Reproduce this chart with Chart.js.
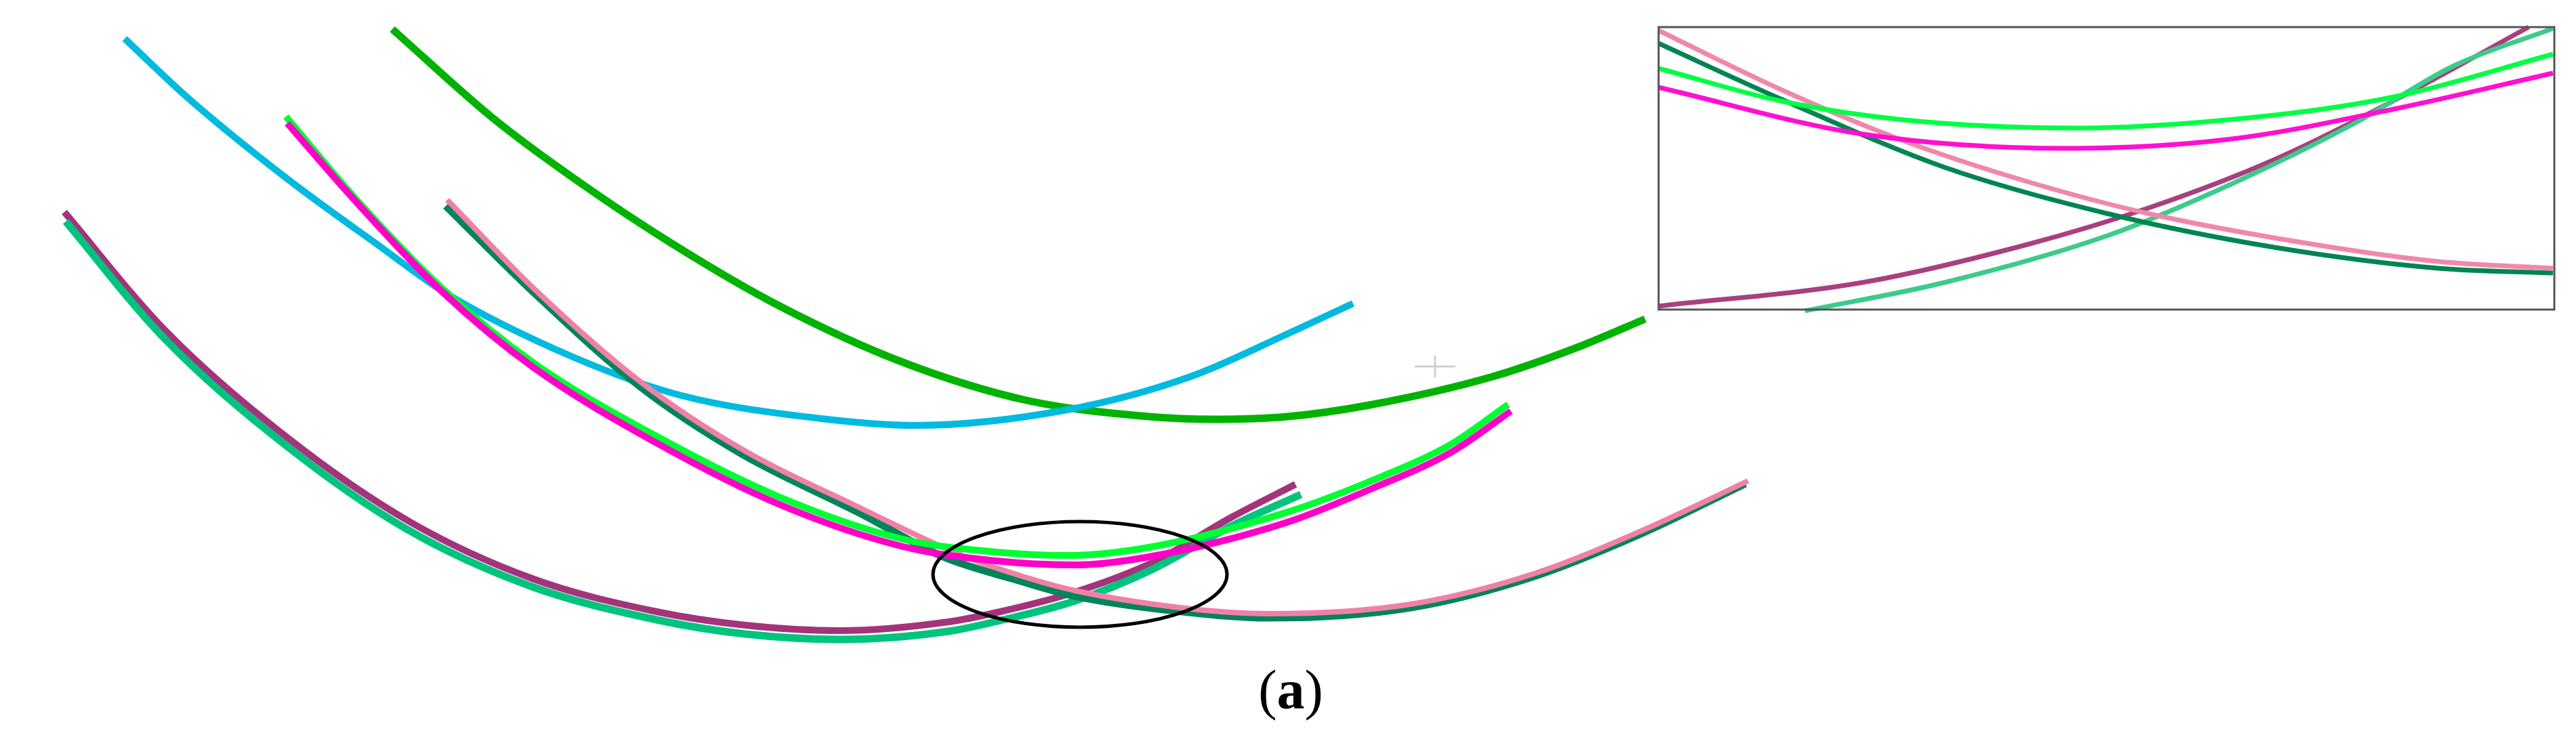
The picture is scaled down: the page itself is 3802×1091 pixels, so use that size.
<!DOCTYPE html>
<html>
<head>
<meta charset="utf-8">
<script src="https://cdn.jsdelivr.net/npm/chart.js@4/dist/chart.umd.min.js"></script>
<style>
html,body{margin:0;padding:0;background:#fff;}
#wrap{position:relative;width:3802px;height:1091px;}
#lbl{position:absolute;left:1905px;top:978px;transform:translateX(-50%);font-family:"Liberation Serif","DejaVu Serif",serif;font-size:82px;line-height:1;color:#000;white-space:nowrap;}
</style>
</head>
<body>
<div id="wrap">
  <canvas id="chart" width="3802" height="1091"></canvas>
  <div id="lbl">(<b>a</b>)</div>
</div>
<script>
// --------- main curves (picture units, x right / y down) ---------
const cyan=[[184,57],[279,146],[424,264],[557,361],[660,434],[848,528],[1006,584],[1212,618],[1350,628],[1575,605],[1757,556],[1900,493],[1997,448]];
const dgreen=[[579,43],[727,174],[848,264],[994,361],[1151,452],[1333,535],[1515,591],[1696,615],[1790,619],[1900,615],[2021,598],[2203,556],[2325,514],[2428,471]];
const lime=[[422,172],[521,289],[654,427],[788,536],[969,644],[1151,734],[1333,796],[1470,815],[1576,820],[1696,808],[1900,756],[2021,711],[2143,655],[2226,597]];
const magenta=[[424,182],[521,293],[654,432],[788,543],[969,654],[1151,745],[1333,807],[1470,828],[1587,834],[1696,822],[1900,771],[2021,723],[2143,667],[2230,607]];
const pink=[[660,295],[790,428],[947,565],[1093,662],[1274,752],[1415,818],[1500,848],[1587,872],[1759,899],[1874,906],[2082,892],[2264,847],[2422,784],[2580,710]];
const teal=[[658,304],[788,432],[945,571],[1091,668],[1272,759],[1392,822],[1500,856],[1587,880],[1736,902],[1874,912],[2082,897],[2264,851],[2422,788],[2576,714]];
const purple=[[95,313],[242,486],[424,646],[606,771],[788,855],[969,903],[1100,923],[1240,931],[1400,918],[1472,904],[1587,874],[1702,830],[1817,764],[1912,715]];
const mint=[[97,327],[240,497],[420,656],[600,781],[785,866],[969,915],[1100,936],[1240,944],[1400,932],[1472,917],[1587,887],[1702,840],[1817,777],[1920,730]];

// --------- inset (zoomed crossing) ---------
const inLime=[[2448,101],[2628,149],[2810,177],[3065,189],[3356,170],[3538,142],[3768,80]];
const inMagenta=[[2448,129],[2749,198],[3052,219],[3295,205],[3538,160],[3768,108]];
const inPink=[[2448,45],[2628,132],[2810,208],[2992,268],[3174,316],[3416,361],[3598,386],[3768,396]];
const inTeal=[[2448,64],[2628,146],[2870,247],[3113,316],[3356,365],[3598,396],[3768,403]];
const inPurple=[[2448,452],[2749,417],[2992,361],[3174,306],[3356,236],[3538,146],[3732,40]];
const inMint=[[2664,459],[2870,417],[3113,347],[3295,271],[3477,181],[3622,97],[3768,42]];

// --------- marks outside the series ---------
const ring={cx:1594,cy:848,rx:217,ry:78};
const cross={x:2118,y:541,w:60,h:32};
const box={x0:2448,y0:40,x1:3770,y1:457};

function ds(pts,color,w){
  return {data:pts.map(p=>({x:p[0],y:p[1]})),showLine:true,borderColor:color,borderWidth:w,
    pointRadius:0,cubicInterpolationMode:'monotone',fill:false,borderCapStyle:'butt',borderJoinStyle:'round'};
}

// first dataset is drawn on top
const sets=[
  ds(magenta,'#ff00c8',10),
  ds(lime,'#00ff33',10),
  ds(pink,'#f080a8',8),
  ds(teal,'#00845a',11),
  ds(mint,'#00c47e',11),
  ds(purple,'#a3347c',10),
  ds(cyan,'#00badf',10),
  ds(dgreen,'#00b300',11),
  ds(inMagenta,'#ff10d0',7),
  ds(inLime,'#00ff44',7),
  ds(inPink,'#f088a8',7),
  ds(inTeal,'#008552',7),
  ds(inMint,'#3ccb8a',7),
  ds(inPurple,'#a84080',7)
];

// ellipse, inset frame and the faint cross
const extras={
  id:'extras',
  afterDatasetsDraw(c){
    const ctx=c.ctx, sx=c.scales.x, sy=c.scales.y;
    ctx.save();
    // frame
    ctx.strokeStyle='#555';ctx.lineWidth=3;
    const bx=sx.getPixelForValue(box.x0), by=sy.getPixelForValue(box.y0);
    ctx.strokeRect(bx,by,sx.getPixelForValue(box.x1)-bx,sy.getPixelForValue(box.y1)-by);
    // ring
    ctx.strokeStyle='#000';ctx.lineWidth=5;
    ctx.beginPath();
    ctx.ellipse(sx.getPixelForValue(ring.cx),sy.getPixelForValue(ring.cy),
      Math.abs(sx.getPixelForValue(ring.cx+ring.rx)-sx.getPixelForValue(ring.cx)),
      Math.abs(sy.getPixelForValue(ring.cy+ring.ry)-sy.getPixelForValue(ring.cy)),0,0,Math.PI*2);
    ctx.stroke();
    // cross
    ctx.strokeStyle='#d0d0d0';ctx.lineWidth=3;
    ctx.beginPath();
    ctx.moveTo(sx.getPixelForValue(cross.x-cross.w/2),sy.getPixelForValue(cross.y));
    ctx.lineTo(sx.getPixelForValue(cross.x+cross.w/2),sy.getPixelForValue(cross.y));
    ctx.moveTo(sx.getPixelForValue(cross.x),sy.getPixelForValue(cross.y-cross.h/2));
    ctx.lineTo(sx.getPixelForValue(cross.x),sy.getPixelForValue(cross.y+cross.h/2));
    ctx.stroke();
    ctx.restore();
  }
};

new Chart(document.getElementById('chart').getContext('2d'),{
  type:'scatter',
  data:{datasets:sets},
  options:{
    responsive:false,animation:false,
    layout:{padding:0},
    plugins:{legend:{display:false},tooltip:{enabled:false}},
    scales:{
      x:{type:'linear',min:0,max:3802,display:false},
      y:{type:'linear',min:0,max:1091,reverse:true,display:false}
    }
  },
  plugins:[extras]
});
</script>
</body>
</html>
